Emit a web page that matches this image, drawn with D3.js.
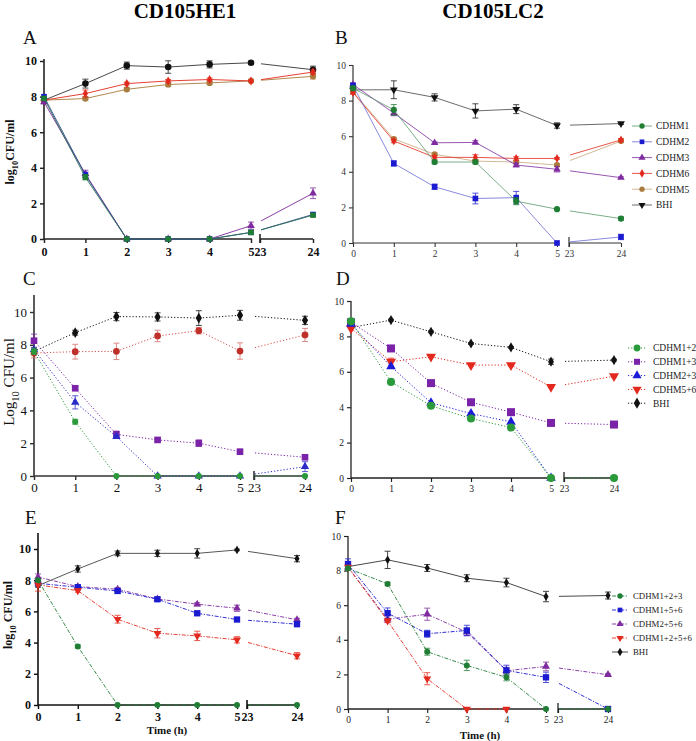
<!DOCTYPE html>
<html><head><meta charset="utf-8">
<script src="https://cdn.jsdelivr.net/npm/d3@7"></script>
<style>body{margin:0;background:#fff}svg{display:block}text{font-family:"Liberation Serif","Times New Roman",serif}</style>
</head><body><svg id="c" width="696" height="741"></svg>
<script>
// ---------- DATA ----------
const hours = [0, 1, 2, 3, 4, 5, 24];
const xTicksEarly = [0, 1, 2, 3, 4, 5];
const xTicksLate = [23, 24];
const yTicks = [0, 2, 4, 6, 8, 10];
const titles = ["CD105HE1", "CD105LC2"];

// Panel A (CD105HE1, single strains)
const A_names = ["BHI", "CDHM5", "CDHM6", "CDHM3", "CDHM2", "CDHM1"];
const A_BHI = [7.8, 8.73, 9.74, 9.66, 9.81, 9.9, 9.51];
const A_BHI_err = [0.1, 0.25, 0.2, 0.35, 0.2, 0.08, 0.2];
const A_CDHM5 = [7.8, 7.89, 8.41, 8.68, 8.77, 8.88, 9.14];
const A_CDHM5_err = [0.1, 0.1, 0.1, 0.12, 0.1, 0.05, 0.15];
const A_CDHM6 = [7.8, 8.17, 8.73, 8.88, 8.96, 8.88, 9.38];
const A_CDHM6_err = [0.1, 0.2, 0.08, 0.08, 0.08, 0.05, 0.12];
const A_CDHM3 = [7.7, 3.66, 0, 0, 0, 0.75, 2.57];
const A_CDHM3_err = [0.1, 0.2, 0, 0, 0, 0.2, 0.3];
const A_CDHM2 = [8.0, 3.6, 0, 0, 0, 0.37, 1.38];
const A_CDHM2_err = [0.1, 0.15, 0, 0, 0, 0.1, 0.08];
const A_CDHM1 = [7.9, 3.47, 0, 0, 0, 0.37, 1.34];
const A_CDHM1_err = [0.1, 0.15, 0, 0, 0, 0.1, 0.08];

// Panel B (CD105LC2, single strains)
const B_names = ["CDHM1", "CDHM2", "CDHM3", "CDHM6", "CDHM5", "BHI"];
const B_CDHM1 = [8.7, 7.48, 4.55, 4.55, 2.35, 1.9, 1.37];
const B_CDHM1_err = [0.1, 0.3, 0.1, 0.1, 0.2, 0.05, 0.1];
const B_CDHM2 = [8.85, 4.47, 3.16, 2.5, 2.55, 0, 0.34];
const B_CDHM2_err = [0.1, 0.15, 0.15, 0.3, 0.35, 0, 0.15];
const B_CDHM3 = [8.9, 7.3, 5.63, 5.65, 4.38, 4.14, 3.67];
const B_CDHM3_err = [0.1, 0.15, 0.05, 0.1, 0.1, 0.15, 0.05];
const B_CDHM6 = [8.45, 5.73, 4.81, 4.81, 4.75, 4.75, 5.79];
const B_CDHM6_err = [0.1, 0.1, 0.1, 0.15, 0.1, 0.05, 0.08];
const B_CDHM5 = [8.5, 5.85, 4.98, 4.6, 4.55, 4.38, 5.73];
const B_CDHM5_err = [0.1, 0.08, 0.08, 0.1, 0.1, 0.08, 0.08];
const B_BHI = [8.6, 8.61, 8.18, 7.42, 7.52, 6.6, 6.71];
const B_BHI_err = [0.1, 0.5, 0.2, 0.4, 0.25, 0.15, 0.05];

// Panel C (CD105HE1, pairs)
const C_names = ["BHI", "CDHM5+6", "CDHM1+3", "CDHM2+3", "CDHM1+2"];
const C_BHI = [7.6, 8.74, 9.72, 9.7, 9.63, 9.8, 9.49];
const C_BHI_err = [0.1, 0.15, 0.25, 0.25, 0.45, 0.3, 0.25];
const C_CDHM56 = [7.5, 7.58, 7.6, 8.54, 8.86, 7.62, 8.6];
const C_CDHM56_err = [0.3, 0.45, 0.5, 0.35, 0.2, 0.5, 0.4];
const C_CDHM13 = [8.25, 5.35, 2.54, 2.2, 2.0, 1.48, 1.14];
const C_CDHM13_err = [0.4, 0.1, 0.2, 0.1, 0.2, 0.15, 0.1];
const C_CDHM23 = [7.7, 4.49, 2.4, 0, 0, 0, 0.57];
const C_CDHM23_err = [0.1, 0.4, 0.1, 0, 0, 0, 0.3];
const C_CDHM12 = [7.6, 3.31, 0, 0, 0, 0, 0];
const C_CDHM12_err = [0.2, 0.15, 0, 0, 0, 0, 0];

// Panel D (CD105LC2, pairs)
const D_names = ["CDHM1+2", "CDHM1+3", "CDHM2+3", "CDHM5+6", "BHI"];
const D_CDHM12 = [8.85, 5.43, 4.08, 3.36, 2.85, 0, 0];
const D_CDHM13 = [8.8, 7.32, 5.36, 4.28, 3.72, 3.11, 3.02];
const D_CDHM23 = [8.7, 6.3, 4.25, 3.64, 3.17, 0, null];
const D_CDHM56 = [8.45, 6.57, 6.85, 6.38, 6.38, 5.15, 5.75];
const D_CDHM56_err = [0, 0.2, 0.05, 0.05, 0.05, 0.05, 0.05];
const D_BHI = [8.5, 8.92, 8.26, 7.6, 7.38, 6.57, 6.66];
const D_BHI_err = [0, 0.05, 0.05, 0.05, 0.05, 0.15, 0.05];

// Panel E (CD105HE1, triples/quadruple)
const E_names = ["BHI", "CDHM2+5+6", "CDHM1+5+6", "CDHM1+2+5+6", "CDHM1+2+3"];
const E_BHI = [7.65, 8.72, 9.72, 9.72, 9.72, 9.94, 9.38];
const E_BHI_err = [0.1, 0.2, 0.15, 0.2, 0.3, 0.05, 0.2];
const E_CDHM256 = [8.2, 7.59, 7.42, 6.8, 6.46, 6.2, 5.46];
const E_CDHM256_err = [0.2, 0.1, 0.1, 0.1, 0.1, 0.2, 0.1];
const E_CDHM156 = [7.8, 7.55, 7.31, 6.78, 5.88, 5.48, 5.18];
const E_CDHM156_err = [0.1, 0.1, 0.15, 0.1, 0.1, 0.1, 0.15];
const E_CDHM1256 = [7.7, 7.33, 5.5, 4.6, 4.43, 4.18, 3.16];
const E_CDHM1256_err = [0.4, 0.1, 0.25, 0.3, 0.3, 0.2, 0.2];
const E_CDHM123 = [8.0, 3.75, 0, 0, 0, 0, 0];
const E_CDHM123_err = [0.1, 0.1, 0, 0, 0, 0, 0];

// Panel F (CD105LC2, triples/quadruple)
const F_names = ["CDHM1+2+3", "CDHM1+5+6", "CDHM2+5+6", "CDHM1+2+5+6", "BHI"];
const F_CDHM123 = [8.13, 7.23, 3.31, 2.52, 1.83, 0, 0];
const F_CDHM123_err = [0.1, 0.1, 0.2, 0.3, 0.2, 0, 0];
const F_CDHM156 = [8.38, 5.54, 4.35, 4.54, 2.23, 1.83, 0];
const F_CDHM156_err = [0.3, 0.3, 0.2, 0.3, 0.3, 0.3, 0];
const F_CDHM256 = [8.2, 5.19, 5.48, 4.44, 2.21, 2.46, 1.98];
const F_CDHM256_err = [0.1, 0.2, 0.35, 0.2, 0.2, 0.25, 0.05];
const F_CDHM1256 = [8.2, 5.1, 1.75, 0, 0, null, null];
const F_CDHM1256_err = [0.1, 0.1, 0.35, 0, 0, 0, 0];
const F_BHI = [8.23, 8.62, 8.15, 7.56, 7.31, 6.5, 6.56];
const F_BHI_err = [0.1, 0.5, 0.2, 0.2, 0.25, 0.3, 0.2];

// ---------- STYLE ----------
const SERIF = '"Liberation Serif","Times New Roman",serif';
const GREEN = "#1f7d34", BLUE = "#1a1ad0", PURPLE = "#7f2a9e", RED = "#e3291d", BROWN = "#a97b3c", BLACK = "#111";
const DOT = "1.2,2", DASHDOT = "4,1.5,1.2,1.5";

const svg = d3.select("#c");
const symTypes = {circle: d3.symbolCircle, square: d3.symbolSquare, triangle: d3.symbolTriangle, diamond: d3.symbolDiamond, tridown: d3.symbolTriangle};
function marker(sel, shape, size, color) {
  sel.attr("d", d3.symbol().type(symTypes[shape]).size(size)())
     .attr("fill", color).attr("stroke", "none");
  return sel;
}

function drawPanel(p) {
  const g = svg.append("g");
  const xa = d3.scaleLinear().domain([0, 5]).range([p.L, p.x5]);
  const xl = d3.scaleLinear().domain([23, 24]).range([p.xb, p.x24]);
  const y = d3.scaleLinear().domain([0, 10]).range([p.y0, p.y10]);
  const X = h => h <= 5 ? xa(h) : xl(h);

  const fontW = p.bold ? "bold" : "normal";
  const ya = g.append("g").attr("transform", `translate(${p.L},0)`)
    .call(d3.axisLeft(y).tickValues(yTicks).tickSize(p.tick).tickSizeOuter(0).tickFormat(d3.format("d")));
  ya.select(".domain").remove();
  g.append("line").attr("x1", p.L).attr("x2", p.L).attr("y1", p.y0 + p.axW / 2).attr("y2", p.yTop)
    .attr("stroke", p.axC).attr("stroke-width", p.axW);
  const xg1 = g.append("g").attr("transform", `translate(0,${p.y0})`)
    .call(d3.axisBottom(xa).tickValues(xTicksEarly).tickSize(p.tick).tickSizeOuter(0).tickFormat(d3.format("d")));
  xg1.select(".domain").remove();
  g.append("line").attr("x1", p.L).attr("x2", p.x5 + 1).attr("y1", p.y0).attr("y2", p.y0)
    .attr("stroke", p.axC).attr("stroke-width", p.axW);
  const xg2 = g.append("g").attr("transform", `translate(0,${p.y0})`)
    .call(d3.axisBottom(xl).tickValues(xTicksLate).tickSize(p.tick).tickSizeOuter(0).tickFormat(d3.format("d")));
  xg2.select(".domain").remove();
  g.append("line").attr("x1", p.xb).attr("x2", p.x24).attr("y1", p.y0).attr("y2", p.y0)
    .attr("stroke", p.axC).attr("stroke-width", p.axW);
  g.append("line").attr("x1", p.xb).attr("x2", p.xb).attr("y1", p.y0 - p.brk).attr("y2", p.y0 + p.tick)
    .attr("stroke", p.axC).attr("stroke-width", p.axW);
  g.selectAll("g.tick line").attr("stroke", p.axC).attr("stroke-width", p.axW * 0.9);
  g.selectAll("g.tick text").attr("font-family", SERIF).attr("font-size", p.fs)
    .attr("font-weight", fontW).attr("fill", p.tc);
  xg1.selectAll(".tick text").attr("y", p.tick + p.xlabOff);
  xg2.selectAll(".tick text").attr("y", p.tick + p.xlabOff);
  ya.attr("font-family", SERIF); xg1.attr("font-family", SERIF); xg2.attr("font-family", SERIF);

  p.series.forEach(s => {
    const pts = hours.map((h, i) => ({x: X(h), v: s.v[i], y: s.v[i] == null ? null : y(s.v[i]), e: s.e ? s.e[i] : 0}));
    const early = pts.slice(0, 6).filter(d => d.v != null);
    const ls = g.append("g").attr("fill", "none").attr("stroke", s.lc || s.c).attr("stroke-width", s.lw || p.lw)
      .attr("stroke-dasharray", s.dash || null);
    ls.append("path").attr("d", d3.line().x(d => d.x).y(d => d.y)(early));
    const p5 = pts[5], p24 = pts[6];
    if (p5.v != null && p24.v != null) {
      const t = (p.xb - p5.x) / (p24.x - p5.x);
      const yy = p5.y + t * (p24.y - p5.y);
      ls.append("path").attr("d", d3.line()([[p.xb + 1, yy], [p24.x, p24.y]]));
    }
    const eg = g.append("g").attr("stroke", s.ec || s.c).attr("stroke-width", 0.9).attr("opacity", 0.85);
    pts.filter(d => d.v != null && d.e > 0).forEach(d => {
      const y1 = y(d.v + d.e), y2 = y(Math.max(0, d.v - d.e));
      eg.append("line").attr("x1", d.x).attr("x2", d.x).attr("y1", y1).attr("y2", y2);
      eg.append("line").attr("x1", d.x - 3).attr("x2", d.x + 3).attr("y1", y1).attr("y2", y1);
      eg.append("line").attr("x1", d.x - 3).attr("x2", d.x + 3).attr("y1", y2).attr("y2", y2);
    });
    const mg = g.append("g");
    pts.filter(d => d.v != null).forEach(d => {
      marker(mg.append("path"), s.m, s.ms || p.ms, s.c)
        .attr("transform", `translate(${d.x},${d.y})` + (s.m === "tridown" ? " rotate(180)" : ""));
    });
  });

  if (p.legend) {
    const lg = p.legend;
    const order = lg.order.map(n => p.series.find(s => s.name === n));
    order.forEach((s, i) => {
      const yy = lg.y + i * lg.dy;
      const row = svg.append("g");
      row.append("line").attr("x1", lg.x - lg.half).attr("x2", lg.x + lg.half).attr("y1", yy).attr("y2", yy)
        .attr("stroke", s.lc || s.c).attr("stroke-width", s.lw || p.lw).attr("stroke-dasharray", s.dash || null);
      marker(row.append("path"), s.m, lg.ms || s.ms || p.ms, s.c)
        .attr("transform", `translate(${lg.x},${yy})` + (s.m === "tridown" ? " rotate(180)" : ""));
      row.append("text").attr("x", lg.tx).attr("y", yy).attr("dy", "0.35em").attr("font-family", SERIF)
        .attr("font-size", lg.fs).attr("fill", "#222").text(s.name);
    });
  }
  svg.append("text").attr("x", p.letter[1]).attr("y", p.letter[2]).attr("font-size", 19).attr("font-family", SERIF)
    .attr("fill", "#111").text(p.letter[0]);
  if (p.ylab) {
    const t = svg.append("text").attr("transform", `translate(${p.ylab.x},${p.ylab.y}) rotate(-90)`)
      .attr("text-anchor", "middle").attr("font-family", SERIF).attr("font-size", p.ylab.fs)
      .attr("font-weight", p.ylab.bold ? "bold" : "normal").attr("fill", "#111");
    t.append("tspan").text(p.ylab.pre);
    t.append("tspan").attr("font-size", p.ylab.fs * 0.7).attr("dy", p.ylab.fs * 0.3).text("10");
    t.append("tspan").attr("dy", -p.ylab.fs * 0.3).text(p.ylab.post);
  }
  if (p.xlab) {
    svg.append("text").attr("x", p.xlab.x).attr("y", p.xlab.y).attr("text-anchor", "middle").attr("font-family", SERIF)
      .attr("font-size", p.xlab.fs).attr("font-weight", "bold").attr("fill", "#111").text("Time (h)");
  }
}

svg.append("text").attr("x", 185).attr("y", 18).attr("text-anchor", "middle").attr("font-family", SERIF)
  .attr("font-size", 21).attr("font-weight", "bold").text(titles[0]);
svg.append("text").attr("x", 493).attr("y", 18).attr("text-anchor", "middle").attr("font-family", SERIF)
  .attr("font-size", 21).attr("font-weight", "bold").text(titles[1]);

drawPanel({
  L: 44, x5: 251, xb: 260, x24: 313, y10: 61, y0: 239, yTop: 59, tick: 4, brk: 5, axW: 1.6, axC: "#222",
  fs: 12, bold: true, tc: "#111", xlabOff: 4, lw: 0.9, ms: 30, letter: ["A", 23, 44],
  ylab: {x: 14, y: 152, fs: 12, bold: true, pre: "log", post: "CFU/ml"},
  series: [
    {name: A_names[0], v: A_BHI, e: A_BHI_err, c: BLACK, lc: "#333", m: "circle", ms: 34},
    {name: A_names[1], v: A_CDHM5, e: A_CDHM5_err, c: BROWN, m: "circle"},
    {name: A_names[2], v: A_CDHM6, e: A_CDHM6_err, c: RED, m: "diamond", ms: 24},
    {name: A_names[3], v: A_CDHM3, e: A_CDHM3_err, c: PURPLE, m: "triangle", ms: 26},
    {name: A_names[4], v: A_CDHM2, e: A_CDHM2_err, c: BLUE, lc: "#2b4f8a", m: "square", ms: 30},
    {name: A_names[5], v: A_CDHM1, e: A_CDHM1_err, c: GREEN, lc: "#2a6b5a", m: "square", ms: 30}
  ]
});

drawPanel({
  L: 353, x5: 557, xb: 569, x24: 621, y10: 65, y0: 243, yTop: 65, tick: 4, brk: 6, axW: 1.2, axC: "#333",
  fs: 9.5, bold: false, tc: "#333", xlabOff: 3, lw: 0.8, ms: 28, letter: ["B", 335, 44],
  series: [
    {name: B_names[5], v: B_BHI, e: B_BHI_err, c: BLACK, lc: "#444", m: "tridown", ms: 26},
    {name: B_names[4], v: B_CDHM5, e: B_CDHM5_err, c: BROWN, lc: "#c9a67a", m: "circle"},
    {name: B_names[3], v: B_CDHM6, e: B_CDHM6_err, c: RED, m: "diamond", ms: 22},
    {name: B_names[2], v: B_CDHM3, e: B_CDHM3_err, c: PURPLE, m: "triangle", ms: 24},
    {name: B_names[1], v: B_CDHM2, e: B_CDHM2_err, c: BLUE, lc: "#6b6bd6", m: "square", ms: 32},
    {name: B_names[0], v: B_CDHM1, e: B_CDHM1_err, c: GREEN, lc: "#5a9a6a", m: "circle", ms: 30}
  ],
  legend: {order: B_names, x: 642, half: 10, tx: 656, y: 126, dy: 15.8, fs: 9.5, ms: 22}
});

drawPanel({
  L: 34, x5: 240, xb: 254, x24: 305, y10: 312, y0: 476, yTop: 295, tick: 4, brk: 5, axW: 1.6, axC: "#333",
  fs: 13, bold: false, tc: "#111", xlabOff: 3, lw: 1, ms: 32, letter: ["C", 23, 285],
  ylab: {x: 14, y: 382, fs: 15, bold: false, pre: "Log", post: " CFU/ml"},
  series: [
    {name: C_names[0], v: C_BHI, e: C_BHI_err, c: BLACK, m: "diamond", ms: 34, dash: DOT},
    {name: C_names[1], v: C_CDHM56, e: C_CDHM56_err, c: "#c0302b", lc: "#d9534c", ec: "#d46a64", m: "circle", ms: 36, dash: DOT},
    {name: C_names[2], v: C_CDHM13, e: C_CDHM13_err, c: "#7a22a8", m: "square", ms: 44, dash: DOT},
    {name: C_names[3], v: C_CDHM23, e: C_CDHM23_err, c: "#2a2ac8", m: "triangle", ms: 30, dash: DOT},
    {name: C_names[4], v: C_CDHM12, e: C_CDHM12_err, c: "#2a9a3a", m: "circle", ms: 30, dash: DOT}
  ]
});

drawPanel({
  L: 351, x5: 551, xb: 564, x24: 614, y10: 301, y0: 478, yTop: 301, tick: 4, brk: 6, axW: 1.3, axC: "#222",
  fs: 9.5, bold: false, tc: "#222", xlabOff: 3, lw: 1, ms: 36, letter: ["D", 336, 285],
  series: [
    {name: D_names[4], v: D_BHI, e: D_BHI_err, c: BLACK, m: "diamond", ms: 30, dash: DOT},
    {name: D_names[3], v: D_CDHM56, e: D_CDHM56_err, c: RED, m: "tridown", ms: 44, dash: DOT},
    {name: D_names[1], v: D_CDHM13, c: "#7a22a8", m: "square", ms: 64, dash: DOT},
    {name: D_names[2], v: D_CDHM23, c: "#1c1cd8", m: "triangle", ms: 40, dash: DOT},
    {name: D_names[0], v: D_CDHM12, c: "#2a9a3a", m: "circle", ms: 52, dash: DOT}
  ],
  legend: {order: D_names, x: 637, half: 9, tx: 653, y: 348, dy: 13.8, fs: 9.5, ms: 36}
});

drawPanel({
  L: 38, x5: 237, xb: 247, x24: 297, y10: 549, y0: 705, yTop: 533, tick: 4, brk: 5, axW: 1.6, axC: "#111",
  fs: 12, bold: true, tc: "#111", xlabOff: 3, lw: 0.9, ms: 30, letter: ["E", 25, 524],
  ylab: {x: 12, y: 615, fs: 12, bold: true, pre: "log", post: " CFU/ml"},
  xlab: {x: 167, y: 734, fs: 11},
  series: [
    {name: E_names[0], v: E_BHI, e: E_BHI_err, c: BLACK, lc: "#444", m: "diamond", ms: 22},
    {name: E_names[1], v: E_CDHM256, e: E_CDHM256_err, c: PURPLE, m: "triangle", ms: 26, dash: DASHDOT},
    {name: E_names[2], v: E_CDHM156, e: E_CDHM156_err, c: BLUE, m: "square", ms: 40, dash: DASHDOT},
    {name: E_names[3], v: E_CDHM1256, e: E_CDHM1256_err, c: RED, m: "tridown", ms: 28, dash: DASHDOT},
    {name: E_names[4], v: E_CDHM123, e: E_CDHM123_err, c: GREEN, m: "circle", ms: 28, dash: DASHDOT}
  ]
});

drawPanel({
  L: 348, x5: 546, xb: 558, x24: 608, y10: 536, y0: 709, yTop: 536, tick: 4, brk: 6, axW: 1.3, axC: "#222",
  fs: 9.5, bold: false, tc: "#222", xlabOff: 3, lw: 0.9, ms: 30, letter: ["F", 335, 524],
  xlab: {x: 480, y: 739, fs: 11},
  series: [
    {name: F_names[4], v: F_BHI, e: F_BHI_err, c: BLACK, lc: "#333", m: "diamond", ms: 22},
    {name: F_names[2], v: F_CDHM256, e: F_CDHM256_err, c: PURPLE, m: "triangle", ms: 28, dash: DASHDOT},
    {name: F_names[1], v: F_CDHM156, e: F_CDHM156_err, c: BLUE, m: "square", ms: 40, dash: DASHDOT},
    {name: F_names[3], v: F_CDHM1256, e: F_CDHM1256_err, c: RED, m: "tridown", ms: 28, dash: DASHDOT},
    {name: F_names[0], v: F_CDHM123, e: F_CDHM123_err, c: GREEN, m: "circle", ms: 28, dash: DASHDOT}
  ],
  legend: {order: F_names, x: 620, half: 8, tx: 633, y: 596, dy: 14, fs: 8.8, ms: 22}
});
</script>
</body></html>
